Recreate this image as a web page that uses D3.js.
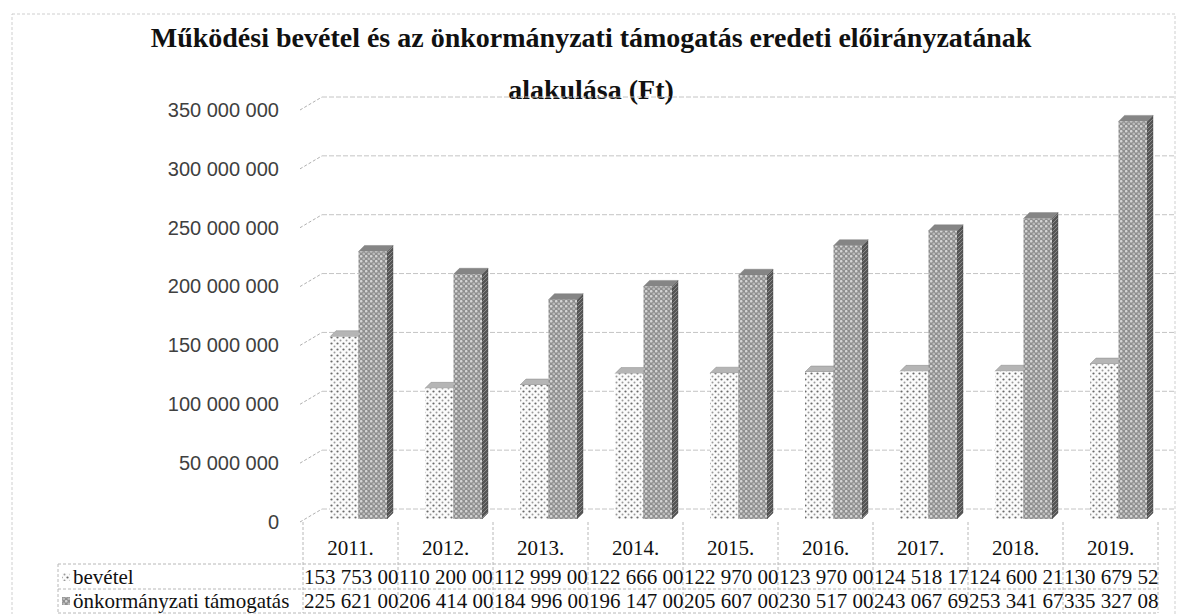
<!DOCTYPE html>
<html><head><meta charset="utf-8">
<script src="https://cdn.jsdelivr.net/npm/d3@7/dist/d3.min.js"></script>
<style>
html,body{margin:0;padding:0;background:#fff;}
svg{display:block;}
</style></head>
<body><svg id="chart" width="1180" height="614"></svg>
<script>
// ---- data ----
const titleLines = ["Működési bevétel és az önkormányzati támogatás eredeti előirányzatának", "alakulása (Ft)"];
const categories = ["2011.","2012.","2013.","2014.","2015.","2016.","2017.","2018.","2019."];
const seriesNames = ["bevétel","önkormányzati támogatás"];
const bevetel = [153753000,110200000,112999000,122666000,122970000,123970000,124518170,124600210,130679520];
const tamogatas = [225621000,206414000,184996000,196147000,205607000,230517000,243067690,253341670,335327080];
const yTicks = [0,50000000,100000000,150000000,200000000,250000000,300000000,350000000];

const svg = d3.select("#chart");
const locale = d3.formatLocale({thousands:"\u00a0", grouping:[3], decimal:",", currency:["",""]});
const fmt = locale.format(",d");

// defs / patterns
const defs = svg.append("defs");
const pDot = defs.append("pattern").attr("id","pDot").attr("width",6).attr("height",6).attr("patternUnits","userSpaceOnUse");
pDot.append("rect").attr("width",6).attr("height",6).attr("fill","#fbfbfb");
pDot.append("circle").attr("cx",1.5).attr("cy",1.5).attr("r",1.1).attr("fill","#6a6a6a");
pDot.append("circle").attr("cx",4.5).attr("cy",4.5).attr("r",1).attr("fill","#9a9a9a");
const pGray = defs.append("pattern").attr("id","pGray").attr("width",5).attr("height",5).attr("patternUnits","userSpaceOnUse");
pGray.append("rect").attr("width",5).attr("height",5).attr("fill","#8e8e8e");
pGray.append("circle").attr("cx",1.25).attr("cy",1.25).attr("r",1.3).attr("fill","#d6d6d6");
pGray.append("circle").attr("cx",3.75).attr("cy",3.75).attr("r",1.3).attr("fill","#bcbcbc");
const pSide = defs.append("pattern").attr("id","pSide").attr("width",4).attr("height",4).attr("patternUnits","userSpaceOnUse");
pSide.append("rect").attr("width",4).attr("height",4).attr("fill","#555");
pSide.append("path").attr("d","M0,4 L4,0").attr("stroke","#8a8a8a").attr("stroke-width",1);

// outer border
svg.append("rect").attr("x",12).attr("y",14).attr("width",1163).attr("height",620)
  .attr("fill","none").attr("stroke","#cfcfcf").attr("stroke-dasharray","3,2");

// title
svg.append("g").selectAll("text").data(titleLines).join("text")
  .attr("x",591).attr("y",(d,i)=>47+i*52)
  .attr("text-anchor","middle")
  .attr("font-family","'Liberation Serif', 'Times New Roman', serif")
  .attr("font-weight","bold").attr("font-size",28).attr("fill","#111")
  .text(d=>d);

// scales
const tableLeft = 303, tableRight = 1158;
const x0 = d3.scaleBand().domain(categories).range([tableLeft, tableRight]).paddingInner(0).paddingOuter(0);
const x1 = d3.scaleBand().domain(seriesNames).range([27, 84]).padding(0);
const yBar = d3.scaleLinear().domain([0,350000000]).range([519,104]);
const yLab = d3.scaleLinear().domain([0,350000000]).range([522,110]);
const depthX = 20, depthY = 13;

// back wall gridlines + side stubs
const grid = svg.append("g");
grid.selectAll("line.h").data(yTicks).join("line").attr("class","h")
  .attr("x1",302+depthX).attr("x2",1174)
  .attr("y1",d=>yLab(d)-depthY).attr("y2",d=>yLab(d)-depthY)
  .attr("stroke","#c4c4c4").attr("stroke-width",1).attr("stroke-dasharray","5,2");
grid.selectAll("line.s").data(yTicks).join("line").attr("class","s")
  .attr("x1",300).attr("x2",302+depthX)
  .attr("y1",d=>yLab(d)).attr("y2",d=>yLab(d)-depthY)
  .attr("stroke","#b0b0b0").attr("stroke-width",1).attr("stroke-dasharray","3,2");

// y labels
const yAxis = d3.axisLeft(yLab).tickValues(yTicks).tickFormat(fmt).tickSize(0).tickPadding(0);
const ya = svg.append("g").attr("transform","translate(279,0)").call(yAxis);
ya.select(".domain").remove();
ya.selectAll("text").attr("font-family","'Liberation Sans', Arial, sans-serif")
  .attr("font-size",20).attr("fill","#404040");

// bars
const dx = 6, dy = 6;
const seriesData = [
  {name:seriesNames[0], values:bevetel, front:"url(#pDot)", top:"#b5b5b5", side:"#9a9a9a"},
  {name:seriesNames[1], values:tamogatas, front:"url(#pGray)", top:"#858585", side:"url(#pSide)"}
];
const barsG = svg.append("g");
seriesData.forEach(s => {
  const g = barsG.append("g");
  const items = categories.map((c,i)=>({c, v:s.values[i]}));
  const bx = d => x0(d.c) + x1(s.name);
  const bw = x1.bandwidth();
  g.selectAll("path.side").data(items).join("path").attr("class","side")
    .attr("d", d => { const x=bx(d), yv=yBar(d.v), y0=yBar(0);
      return `M${x+bw},${yv} L${x+bw+dx},${yv-dy} L${x+bw+dx},${y0-dy} L${x+bw},${y0} Z`; })
    .attr("fill", s.side).attr("stroke","#444").attr("stroke-width",0.4);
  g.selectAll("path.top").data(items).join("path").attr("class","top")
    .attr("d", d => { const x=bx(d), yv=yBar(d.v);
      return `M${x},${yv} L${x+dx},${yv-dy} L${x+bw+dx},${yv-dy} L${x+bw},${yv} Z`; })
    .attr("fill", s.top).attr("stroke","#777").attr("stroke-width",0.4);
  g.selectAll("rect.front").data(items).join("rect").attr("class","front")
    .attr("x", bx).attr("y", d=>yBar(d.v)).attr("width", bw).attr("height", d=>yBar(0)-yBar(d.v))
    .attr("fill", s.front);
});

// data table
const tbl = svg.append("g");
const rowLines = [564, 589, 613];
const serif = "'Liberation Serif', 'Times New Roman', serif";
tbl.selectAll("line.rh").data(rowLines).join("line").attr("class","rh")
  .attr("x1",58).attr("x2",tableRight).attr("y1",d=>d).attr("y2",d=>d)
  .attr("stroke","#b8b8b8").attr("stroke-dasharray","3,2");
tbl.append("line").attr("x1",58).attr("x2",58).attr("y1",564).attr("y2",613)
  .attr("stroke","#b8b8b8").attr("stroke-dasharray","3,2");
const bounds = categories.map(c=>x0(c)).concat([tableRight]);
tbl.selectAll("line.cv").data(bounds).join("line").attr("class","cv")
  .attr("x1",d=>d).attr("x2",d=>d).attr("y1",522).attr("y2",613)
  .attr("stroke","#b8b8b8").attr("stroke-dasharray","3,2");
// year header
tbl.selectAll("text.yr").data(categories).join("text").attr("class","yr")
  .attr("x",d=>x0(d)+x0.bandwidth()/2).attr("y",555)
  .attr("text-anchor","middle").attr("font-family",serif).attr("font-size",21).attr("fill","#111")
  .text(d=>d);
// clip paths per cell
categories.forEach((c,i)=>{
  defs.append("clipPath").attr("id","clip"+i).append("rect")
    .attr("x",x0(c)).attr("y",564).attr("width",x0.bandwidth()).attr("height",50);
});
seriesData.forEach((s,r)=>{
  const yBase = 584 + r*24;
  tbl.append("rect").attr("x",62).attr("y",yBase-11).attr("width",8).attr("height",8)
    .attr("fill", r===0 ? "url(#pDot)" : "url(#pGray)");
  tbl.append("text").attr("x",73).attr("y",yBase).attr("font-family",serif).attr("font-size",21).attr("fill","#111")
    .text(s.name);
  tbl.selectAll("text.v"+r).data(s.values).join("text").attr("class","v"+r)
    .attr("clip-path",(d,i)=>`url(#clip${i})`)
    .attr("x",(d,i)=>x0(categories[i])+1).attr("y",yBase)
    .attr("font-family",serif).attr("font-size",21).attr("fill","#111")
    .text(d=>fmt(d));
});
</script>
</body></html>
